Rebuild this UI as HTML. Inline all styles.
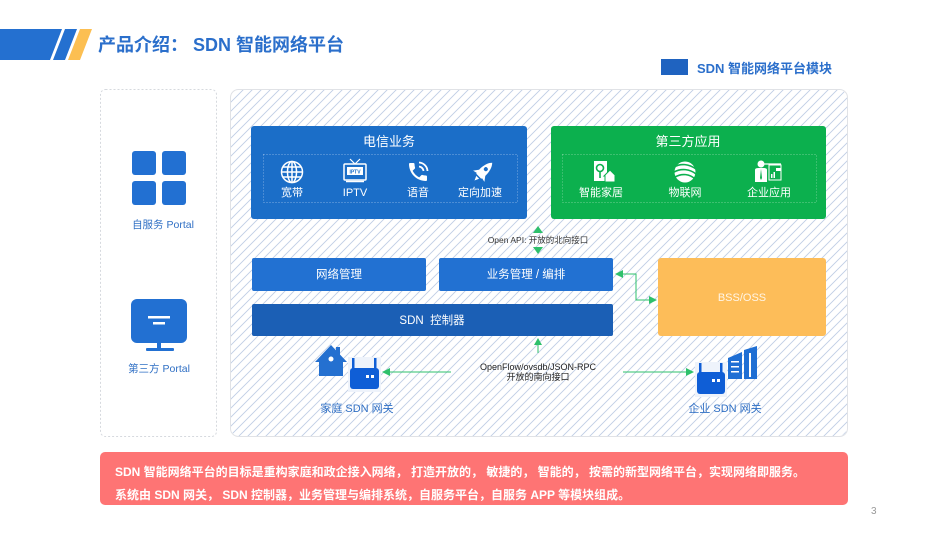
<!DOCTYPE html>
<html><head><meta charset="utf-8"><style>
html,body{margin:0;padding:0;background:#fff;}
body{width:950px;height:535px;overflow:hidden;}
svg{display:block;}
text{font-family:"Liberation Sans","Noto Sans CJK SC",sans-serif;}
</style></head><body>
<svg width="950" height="535" viewBox="0 0 950 535" xmlns="http://www.w3.org/2000/svg">
<defs>
<pattern id="hatch" patternUnits="userSpaceOnUse" width="9" height="9">
<path d="M-2,2 L2,-2 M0,9 L9,0 M7,11 L11,7" stroke="#bfcde5" stroke-width="0.9"/>
</pattern>
</defs>

<!-- Title bar -->
<polygon points="0,29 62,29 50,60 0,60" fill="#2470d0"/>
<polygon points="65,29 77,29 65,60 53,60" fill="#2470d0"/>
<polygon points="80,29 92,29 80,60 68,60" fill="#fcbf52"/>
<text x="98" y="51" font-size="18" font-weight="bold" fill="#2b6fcb">产品介绍： SDN 智能网络平台</text>

<!-- Legend -->
<rect x="661" y="59" width="27" height="16" fill="#1f63c0"/>
<text x="697" y="73" font-size="13" font-weight="bold" fill="#2b6fcb">SDN 智能网络平台模块</text>

<!-- Left panel -->
<rect x="100.5" y="89.5" width="116" height="347" rx="5" fill="#fff" stroke="#d6d9de" stroke-dasharray="2,2"/>
<rect x="132" y="151" width="24" height="24" rx="3" fill="#2270d2"/>
<rect x="162" y="151" width="24" height="24" rx="3" fill="#2270d2"/>
<rect x="132" y="181" width="24" height="24" rx="3" fill="#2270d2"/>
<rect x="162" y="181" width="24" height="24" rx="3" fill="#2270d2"/>
<text x="163" y="228" font-size="10.5" fill="#2f6fc4" text-anchor="middle">自服务 Portal</text>
<rect x="131" y="299" width="56" height="44" rx="6" fill="#2270d2"/>
<rect x="148" y="316" width="22" height="2.5" fill="#fff"/>
<rect x="153" y="322" width="12" height="2.5" fill="#fff"/>
<rect x="157" y="343" width="4" height="6" fill="#2270d2"/>
<rect x="146" y="348" width="28" height="3" rx="1" fill="#2270d2"/>
<text x="159" y="372" font-size="10.5" fill="#2f6fc4" text-anchor="middle">第三方 Portal</text>

<!-- Main hatched panel -->
<rect x="230.5" y="89.5" width="617" height="347" rx="8" fill="#fff" stroke="#e0e2e6"/>
<rect x="231" y="90" width="616" height="346" rx="8" fill="url(#hatch)"/>

<!-- 电信业务 -->
<rect x="251" y="126" width="276" height="93" rx="3" fill="#1b6ec8"/>
<text x="389" y="146" font-size="13" fill="#fff" text-anchor="middle">电信业务</text>
<rect x="263.5" y="154.5" width="254" height="48" fill="none" stroke="#9fc1ea" stroke-width="0.7" stroke-dasharray="1,2"/>
<!-- globe -->
<g transform="translate(292,172)" fill="none" stroke="#fff" stroke-width="1.5">
<circle r="10.5"/><ellipse rx="4.5" ry="10.5"/><line x1="-10.5" y1="0" x2="10.5" y2="0"/><line x1="0" y1="-10.5" x2="0" y2="10.5"/><line x1="-9" y1="-5" x2="9" y2="-5"/><line x1="-9" y1="5" x2="9" y2="5"/>
</g>
<!-- TV -->
<g transform="translate(355,172)">
<line x1="-5" y1="-13" x2="0" y2="-8" stroke="#fff" stroke-width="1.2"/>
<line x1="5" y1="-13" x2="0" y2="-8" stroke="#fff" stroke-width="1.2"/>
<rect x="-11" y="-8" width="22" height="16" rx="1" fill="none" stroke="#fff" stroke-width="1.5"/>
<rect x="-8" y="-5" width="16" height="8" fill="#fff"/>
<text x="0" y="1.5" font-size="5" font-weight="bold" fill="#1b6ec8" text-anchor="middle">IPTV</text>
<line x1="-9" y1="9.5" x2="9" y2="9.5" stroke="#fff" stroke-width="1.5"/>
</g>
<!-- phone -->
<g transform="translate(406,160) scale(1.0)" fill="#fff">
<path d="M6.62 10.79c1.44 2.83 3.76 5.14 6.59 6.59l2.2-2.2c.27-.27.67-.36 1.02-.24 1.12.37 2.33.57 3.570.57.55 0 1 .45 1 1V20c0 .55-.45 1-1 1-9.39 0-17-7.61-17-17 0-.55.45-1 1-1h3.5c.55 0 1 .45 1 1 0 1.25.2 2.45.57 3.57.11.35.03.74-.25 1.02l-2.2 2.2z"/>
<path d="M13 2.5 A9 9 0 0 1 21.5 11" fill="none" stroke="#fff" stroke-width="1.8"/>
<path d="M13 6.5 A5 5 0 0 1 17.5 11" fill="none" stroke="#fff" stroke-width="1.8"/>
</g>
<!-- rocket -->
<g transform="translate(483,172) rotate(45)" fill="#fff">
<path d="M0,-13 C5,-8 5,2 3.5,6 L-3.5,6 C-5,2 -5,-8 0,-13 Z"/>
<circle cx="0" cy="-4" r="2" fill="#1b6ec8"/>
<path d="M-3.5,0 L-8,6 L-3.5,5 Z"/><path d="M3.5,0 L8,6 L3.5,5 Z"/>
<path d="M-2,7.5 L2,7.5 L0,12 Z"/>
</g>
<text x="292" y="196" font-size="11" fill="#fff" text-anchor="middle">宽带</text>
<text x="355" y="196" font-size="11" fill="#fff" text-anchor="middle">IPTV</text>
<text x="418" y="196" font-size="11" fill="#fff" text-anchor="middle">语音</text>
<text x="480" y="196" font-size="11" fill="#fff" text-anchor="middle">定向加速</text>

<!-- 第三方应用 -->
<rect x="551" y="126" width="275" height="93" rx="3" fill="#0cb04e"/>
<text x="688" y="146" font-size="13" fill="#fff" text-anchor="middle">第三方应用</text>
<rect x="562.5" y="154.5" width="254" height="48" fill="none" stroke="#8ed9aa" stroke-width="0.7" stroke-dasharray="1,2"/>
<!-- smart home -->
<g transform="translate(603,172)">
<rect x="-9" y="-11" width="13" height="20" fill="#fff"/>
<circle cx="-3" cy="-4" r="3.5" fill="none" stroke="#0cb04e" stroke-width="1.6"/>
<line x1="-3" y1="-0.5" x2="-3" y2="6" stroke="#0cb04e" stroke-width="1.6"/>
<polygon points="1,4 7,-2 13,4 12,4 12,10 2,10 2,4" fill="#fff" stroke="#0cb04e" stroke-width="1"/>
</g>
<!-- IoT sphere -->
<g transform="translate(685,172)">
<circle r="10.5" fill="#fff"/>
<g stroke="#0cb04e" stroke-width="1.6" fill="none">
<path d="M-11,-5 C-4,-9 4,-8 11,-3"/><path d="M-11,0 C-4,-4 5,-3 11,2"/><path d="M-10,5 C-3,1 5,2 10,7"/>
</g>
</g>
<!-- enterprise -->
<g transform="translate(768,172)" fill="#fff">
<circle cx="-7" cy="-8" r="3.5"/>
<path d="M-13,10 L-13,-2 C-13,-4 -11,-4 -7,-4 C-3,-4 -1,-4 -1,-2 L-1,10 Z"/>
<path d="M-7,-3 L-8,6 L-7,8 L-6,6 Z" fill="#0cb04e"/>
<line x1="-4" y1="-8" x2="13" y2="-8" stroke="#fff" stroke-width="1.2"/>
<rect x="1" y="-7" width="12" height="15" fill="none" stroke="#fff" stroke-width="1"/>
<rect x="3" y="2" width="1.5" height="4"/><rect x="5.5" y="0" width="1.5" height="6"/>
<rect x="8" y="-4" width="5" height="3"/>
</g>
<text x="601" y="196" font-size="11" fill="#fff" text-anchor="middle">智能家居</text>
<text x="685" y="196" font-size="11" fill="#fff" text-anchor="middle">物联网</text>
<text x="769" y="196" font-size="11" fill="#fff" text-anchor="middle">企业应用</text>

<!-- Open API arrows -->
<polygon points="538,226 533,233 543,233" fill="#2ec06b"/>
<polygon points="538,254 533,247 543,247" fill="#2ec06b"/>
<text x="538" y="243" font-size="8.5" fill="#333" text-anchor="middle">Open API: 开放的北向接口</text>

<!-- middle boxes -->
<rect x="252" y="258" width="174" height="33" rx="2" fill="#2271d2"/>
<text x="339" y="278" font-size="11.5" fill="#fff" text-anchor="middle">网络管理</text>
<rect x="439" y="258" width="174" height="33" rx="2" fill="#2271d2"/>
<text x="526" y="278" font-size="11.5" fill="#fff" text-anchor="middle">业务管理 / 编排</text>
<rect x="252" y="304" width="361" height="32" rx="2" fill="#1b5fb5"/>
<text x="432" y="324" font-size="11.5" fill="#fff" text-anchor="middle">SDN&#160;&#160;控制器</text>

<!-- BSS/OSS -->
<rect x="658" y="258" width="168" height="78" rx="3" fill="#fdbd59"/>
<text x="742" y="301" font-size="11" fill="#fff5e6" text-anchor="middle">BSS/OSS</text>

<!-- BSS connector -->
<polyline points="623,274 636,274 636,300 650,300" fill="none" stroke="#2ec06b" stroke-width="1"/>
<polygon points="615,274 623,270 623,278" fill="#2ec06b"/>
<polygon points="657,300 649,296 649,304" fill="#2ec06b"/>

<!-- South arrow -->
<line x1="538" y1="345" x2="538" y2="353" stroke="#2ec06b" stroke-width="1"/>
<polygon points="538,338 534,345 542,345" fill="#2ec06b"/>
<text x="538" y="370" font-size="9" fill="#222" text-anchor="middle">OpenFlow/ovsdb/JSON-RPC</text>
<text x="538" y="380" font-size="9" fill="#222" text-anchor="middle">开放的南向接口</text>

<!-- home gateway line -->
<line x1="390" y1="372" x2="451" y2="372" stroke="#2ec06b" stroke-width="1"/>
<polygon points="382,372 390,368 390,376" fill="#2ec06b"/>
<!-- enterprise line -->
<line x1="623" y1="372" x2="686" y2="372" stroke="#2ec06b" stroke-width="1"/>
<polygon points="694,372 686,368 686,376" fill="#2ec06b"/>

<!-- house -->
<g fill="#2470d0">
<polygon points="315,362 331,345 347,362 343,362 343,376 319,376 319,362"/>
<rect x="336" y="347" width="4" height="8"/>
<circle cx="331" cy="359" r="2.5" fill="#fff"/>
</g>
<!-- home router -->
<rect x="348" y="357" width="33" height="35" fill="#eef3fb"/>
<g fill="#0f5ed6">
<rect x="352" y="358" width="2.5" height="12"/>
<rect x="374" y="358" width="2.5" height="12"/>
<rect x="350" y="368" width="29" height="21" rx="3"/>
</g>
<rect x="366" y="375" width="3" height="3" fill="#fff"/><rect x="371" y="375" width="3" height="3" fill="#fff"/>
<text x="357" y="412" font-size="11" fill="#2f6fc4" text-anchor="middle">家庭 SDN 网关</text>

<!-- enterprise router -->
<rect x="695" y="362" width="32" height="35" fill="#eef3fb"/>
<g fill="#0f5ed6">
<rect x="699" y="363" width="2.5" height="12"/>
<rect x="720" y="363" width="2.5" height="12"/>
<rect x="697" y="372" width="28" height="22" rx="3"/>
</g>
<rect x="712" y="379" width="3" height="3" fill="#fff"/><rect x="717" y="379" width="3" height="3" fill="#fff"/>
<!-- building -->
<g fill="#1f6fd4">
<polygon points="728,358 742,352 742,379 728,379"/>
<polygon points="744,350 757,346 757,379 744,379"/>
</g>
<g fill="#fff">
<rect x="731" y="361" width="8" height="1.5"/><rect x="731" y="366" width="8" height="1.5"/><rect x="731" y="371" width="8" height="1.5"/>
<rect x="749" y="353" width="2" height="24"/>
</g>
<text x="725" y="412" font-size="11" fill="#2f6fc4" text-anchor="middle">企业 SDN 网关</text>

<!-- Bottom red box -->
<rect x="100" y="452" width="748" height="53" rx="5" fill="#fe7474"/>
<text x="115" y="476" font-size="12" font-weight="bold" fill="#fff">SDN 智能网络平台的目标是重构家庭和政企接入网络， 打造开放的， 敏捷的， 智能的， 按需的新型网络平台，实现网络即服务。</text>
<text x="115" y="499" font-size="12" font-weight="bold" fill="#fff">系统由 SDN 网关， SDN 控制器，业务管理与编排系统，自服务平台，自服务 APP 等模块组成。</text>

<text x="871" y="514" font-size="10" fill="#999">3</text>
</svg>
</body></html>
